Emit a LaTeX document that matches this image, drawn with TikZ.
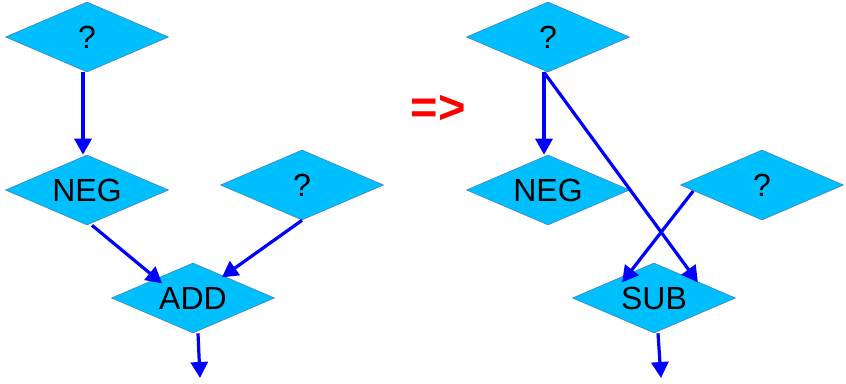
\documentclass[tikz,border=0pt]{standalone}
\usepackage{fontspec}
\setmainfont{Liberation Sans}
\usetikzlibrary{shapes.geometric, arrows.meta}
\definecolor{opfill}{HTML}{00BFFF}
\definecolor{opline}{HTML}{3F7FBF}
\definecolor{edgeblue}{HTML}{0000FF}
\definecolor{rewritered}{HTML}{FF0000}

\begin{document}
\begin{tikzpicture}[
  x=1pt, y=-1pt,
  op/.style={diamond, aspect=2.33, minimum width=163pt, minimum height=70pt,
             inner sep=0pt, fill=opfill, draw=opline, line width=0.6pt,
             font=\fontsize{32}{36}\selectfont},
  arr/.style={-{Triangle[length=16pt, width=17pt]}, edgeblue, line width=3.2pt},
]
  \useasboundingbox (0,0) rectangle (846,383);

  % before: ADD(NEG(a), b)
  \node[op] (qa1)  at (87,37)   {?};
  \node[op] (neg1) at (87,190)  {NEG};
  \node[op] (qb1)  at (302,185) {?};
  \node[op] (add)  at (193,298) {ADD};
  \coordinate (out1) at (200,378);

  \draw[arr] ([xshift=-4pt]qa1.south) -- ([xshift=-4pt]neg1.north);
  \draw[arr] ([xshift=5pt]neg1.south) -- ([xshift=10pt,yshift=-3pt]add.north west);
  \draw[arr] (qb1.south) -- ([xshift=-12pt,yshift=3pt]add.north east);
  \draw[arr] ([xshift=5pt]add.south) -- (out1);

  % rewrite sign
  \node[text=rewritered, font=\fontsize{47}{47}\selectfont\bfseries] (rw) at (438,109) {=>};

  % after: SUB(b, a)
  \node[op] (qa2)  at (548,37)  {?};
  \node[op] (neg2) at (548,190) {NEG};
  \node[op] (qb2)  at (762,185) {?};
  \node[op] (sub)  at (654,298) {SUB};
  \coordinate (out2) at (661,378);

  \draw[arr] ([xshift=-4pt]qa2.south) -- ([xshift=-4pt]neg2.north);
  \draw[arr] ([xshift=-4pt]qa2.south) -- ([xshift=3pt,yshift=-2pt]sub.north east);
  \draw[arr] ([xshift=13pt,yshift=-6pt]qb2.west) -- ([xshift=9pt,yshift=-2pt]sub.north west);
  \draw[arr] ([xshift=4pt]sub.south) -- (out2);
\end{tikzpicture}
\end{document}
